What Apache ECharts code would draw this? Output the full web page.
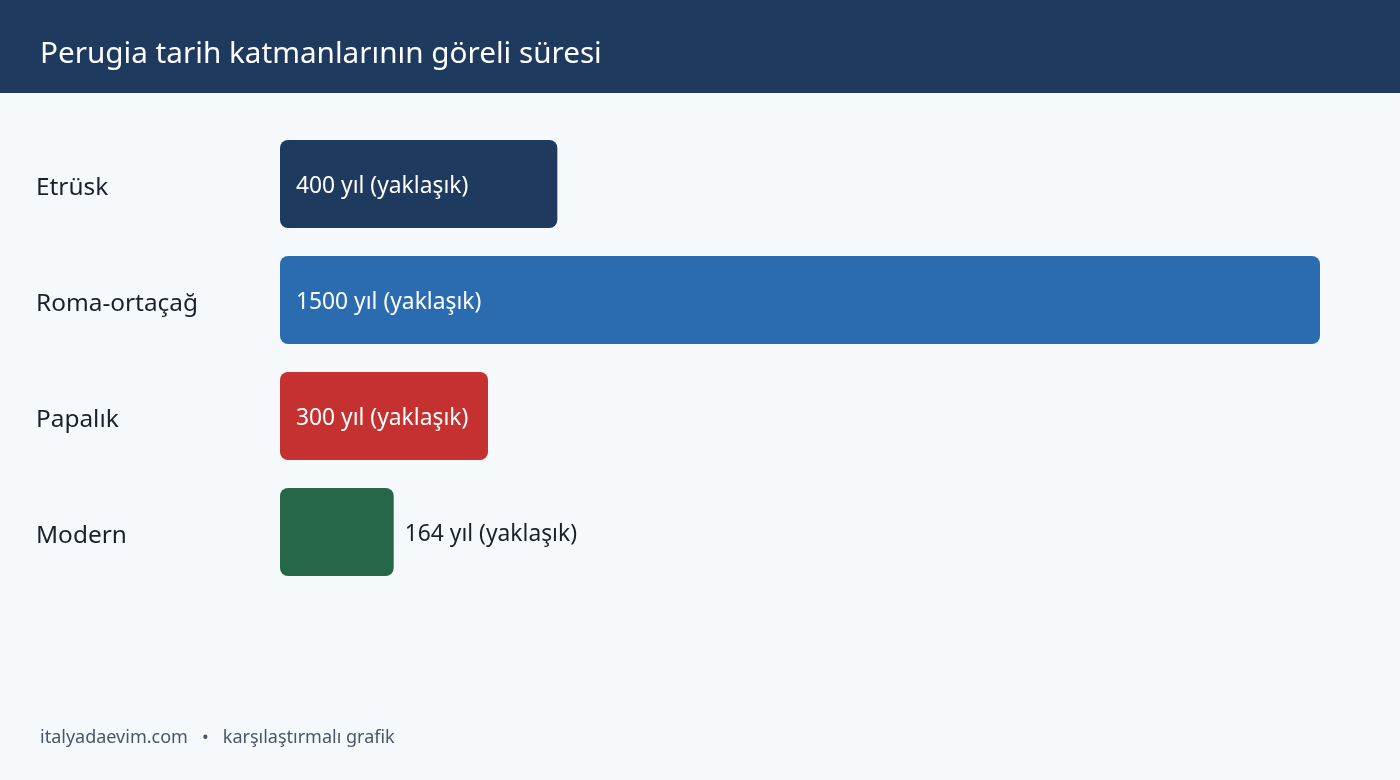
<!DOCTYPE html>
<html><head><meta charset="utf-8">
<script src="https://cdn.jsdelivr.net/npm/echarts@6/dist/echarts.min.js"></script>
<style>html,body{margin:0;padding:0;background:#f5f9fc;}#c{width:1400px;height:780px;}</style>
</head><body><div id="c"></div>
<script>
const categories = ["Etrüsk", "Roma-ortaçağ", "Papalık", "Modern"];
const values = [400, 1500, 300, 164];
const colors = ["#1f3a5f", "#2b6cb0", "#c53030", "#276749"];
const titleText = "Perugia tarih katmanlarının göreli süresi";
const footerText = "italyadaevim.com   •   karşılaştırmalı grafik";
const FONT = "'Noto Sans', 'Open Sans', sans-serif";

const chart = echarts.init(document.getElementById('c'));
const data = values.map((v, i) => ({
  value: v,
  itemStyle: { color: colors[i] },
  label: v < 250
    ? { position: 'right', distance: 11, color: '#1a202c' }
    : { position: 'insideLeft', distance: 16, color: '#ffffff' }
}));
chart.setOption({
  backgroundColor: '#f5f9fc',
  animation: false,
  graphic: [
    { type: 'rect', left: 0, top: 0, shape: { width: 1400, height: 93 }, style: { fill: '#1f3a5f' }, z: 0 },
    { type: 'text', left: 40, top: 40, style: { text: titleText, fill: '#ffffff', font: "29.7px " + FONT }, z: 1 },
    { type: 'text', left: 40, top: 729, style: { text: footerText, fill: '#4a5568', font: "18px " + FONT }, z: 1 }
  ],
  grid: { left: 280, right: 80, top: 126, height: 464 },
  xAxis: { type: 'value', min: 0, max: 1500, show: false },
  yAxis: {
    type: 'category', data: categories, inverse: true,
    axisLine: { show: false }, axisTick: { show: false },
    axisLabel: {
      align: 'left', margin: 244,
      formatter: v => '{a|' + v + '}',
      rich: { a: { fontSize: 24.4, color: '#1a202c', fontFamily: FONT, padding: [8, 0, 0, 0] } }
    }
  },
  series: [{
    type: 'bar', data: data, barWidth: 88,
    itemStyle: { borderRadius: 8 },
    label: { show: true, formatter: p => p.value + ' yıl (yaklaşık)', fontSize: 22.8, fontFamily: FONT, offset: [0, 3] }
  }]
});
</script></body></html>
